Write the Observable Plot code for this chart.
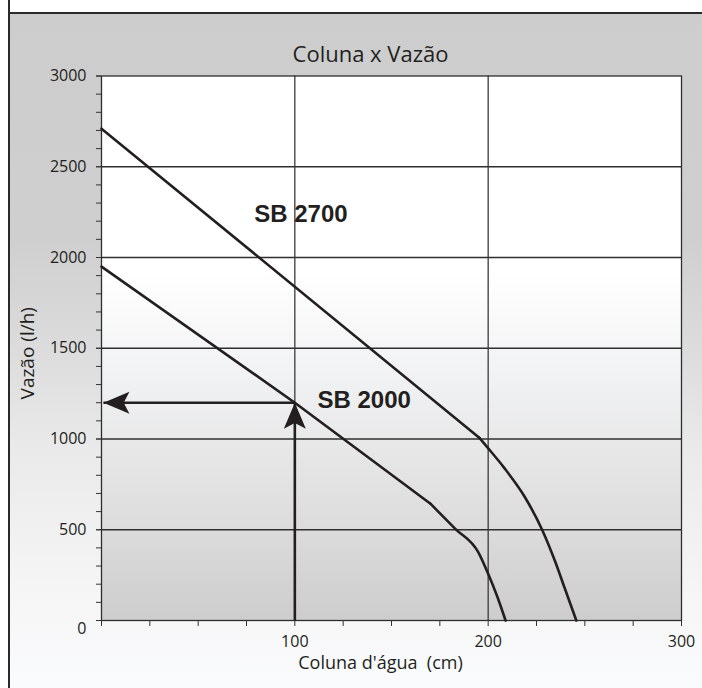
<!DOCTYPE html>
<html><head><meta charset="utf-8">
<script src="https://cdn.jsdelivr.net/npm/d3@7"></script>
<script src="https://cdn.jsdelivr.net/npm/@observablehq/plot@0.6"></script>
<style>
html,body{margin:0;padding:0;background:#fff;overflow:hidden;}
#wrap{position:relative;width:702px;height:688px;overflow:hidden;font-family:"Open Sans",sans-serif;
background:linear-gradient(to bottom,#cdcdcd 0px,#cfcfcf 240px,#dcdcdc 350px,#eaeaea 450px,#f6f6f6 600px,#fafbfd 688px);}
#cornerTop{position:absolute;left:0;top:0;width:702px;height:12px;background:#fff;border-bottom:2px solid #2a2a2a;}
#cornerLeft{position:absolute;left:0;top:0;width:8px;height:688px;background:#fff;border-right:2px solid #2a2a2a;}
#chart{position:absolute;left:0;top:0;}
</style></head>
<body><div id="wrap"><div id="cornerTop"></div><div id="cornerLeft"></div><div id="chart"></div></div>
<script>
// ---- data ----
const title = "Coluna x Vazão";
const xLabel = "Coluna d'água  (cm)";
const yLabel = "Vazão (l/h)";
const xTickLabels = [100, 200, 300];
const xMinorTicks = [0, 25, 50, 75, 100, 125, 150, 175, 200, 225, 250, 275, 300];
const yTickLabels = [500, 1000, 1500, 2000, 2500, 3000];
const yZeroLabel = [0];
const yMinorTicks = [0,100,200,300,400,500,600,700,800,900,1000,1100,1200,1300,1400,1500,1600,1700,1800,1900,2000,2100,2200,2300,2400,2500,2600,2700,2800,2900,3000];
const xGrid = [100, 200];
const yGrid = [500, 1000, 1500, 2000, 2500];

const seriesNames = ["SB 2700", "SB 2000"];
// straight part of each curve
const sb2700StraightX = [0, 195.4];
const sb2700StraightY = [2710, 1007];
// curved tail down to zero flow
const sb2700TailX = [195.4, 199.5, 208.3, 218.8, 227.9, 234.6, 239.8, 245.6];
const sb2700TailY = [1007, 955, 841, 683, 500, 326, 172, 0];
const sb2000StraightX = [0, 100, 170];
const sb2000StraightY = [1950, 1200, 645];
const sb2000TailX = [170, 183, 195, 199.5, 204.7, 209];
const sb2000TailY = [645, 505, 374, 270, 132, 0];

const labelX = [79, 111.7];
const labelY = [2237, 1213];

const readX = [100];
const readY = [1200];
const hArrowTipX = [1];

// ---- tables ----
const straight = [
  ...sb2700StraightX.map((x, i) => ({series: seriesNames[0], x, y: sb2700StraightY[i]})),
  ...sb2000StraightX.map((x, i) => ({series: seriesNames[1], x, y: sb2000StraightY[i]}))
];
const tails = [
  ...sb2700TailX.map((x, i) => ({series: seriesNames[0], x, y: sb2700TailY[i]})),
  ...sb2000TailX.map((x, i) => ({series: seriesNames[1], x, y: sb2000TailY[i]}))
];
const labels = seriesNames.map((s, i) => ({text: s, x: labelX[i], y: labelY[i]}));
const hShaft = [{x1: readX[0], y1: readY[0], x2: hArrowTipX[0], y2: readY[0]}];
const vShaft = [{x1: readX[0], y1: 0, x2: readX[0], y2: readY[0]}];
const hHead = [{x: hArrowTipX[0], y: readY[0]}];
const vHead = [{x: readX[0], y: readY[0]}];

const barb = {
  draw(context, l, r) {
    context.moveTo(0, -l);
    context.lineTo(r, 0);
    context.lineTo(0, -l * 0.22);
    context.lineTo(-r, 0);
    context.closePath();
  }
};

const ink = "#231f20";

const svg = Plot.plot({
  width: 702,
  height: 688,
  marginLeft: 101,
  marginRight: 21,
  marginTop: 75.5,
  marginBottom: 68,
  style: {fontFamily: "'Open Sans', sans-serif", fontSize: "16px", background: "transparent", color: ink, overflow: "visible"},
  x: {type: "linear", domain: [0, 300]},
  y: {type: "linear", domain: [0, 3000]},
  marks: [
    Plot.frame({fill: "url(#plotGrad)", stroke: "none"}),
    Plot.ruleY(yGrid, {stroke: "#2e2e2e", strokeWidth: 1.3}),
    Plot.ruleX(xGrid, {stroke: "#3a3a3a", strokeWidth: 1.3}),
    Plot.frame({stroke: "#2e2e2e", strokeWidth: 1.3}),
    Plot.axisY({ticks: yMinorTicks, tickSize: 5, tickPadding: 10, tickFormat: () => "", label: null, stroke: "#333"}),
    Plot.axisY({ticks: yTickLabels, tickSize: 5, tickPadding: 10, fontSize: 16, label: null, stroke: "#333", fill: ink, tickFormat: d => String(d)}),
    Plot.axisY({ticks: yZeroLabel, tickSize: 0, tickPadding: 15, dy: 8, fontSize: 16, label: null, fill: ink, tickFormat: d => String(d)}),
    Plot.axisX({ticks: xMinorTicks, tickSize: 6, tickPadding: 9, fontSize: 16, label: null, stroke: "#333", fill: ink,
      tickFormat: d => xTickLabels.includes(d) ? String(d) : ""}),
    Plot.line(straight, {x: "x", y: "y", z: "series", stroke: ink, strokeWidth: 2.6, curve: "linear", strokeLinejoin: "round", strokeLinecap: "round"}),
    Plot.line(tails, {x: "x", y: "y", z: "series", stroke: ink, strokeWidth: 2.6, curve: "monotone-x", strokeLinejoin: "round", strokeLinecap: "round"}),
    Plot.link(hShaft, {x1: "x1", y1: "y1", x2: "x2", y2: "y2", stroke: ink, strokeWidth: 2.6}),
    Plot.link(vShaft, {x1: "x1", y1: "y1", x2: "x2", y2: "y2", stroke: ink, strokeWidth: 2.6}),
    Plot.vector(hHead, {x: "x", y: "y", rotate: 270, length: 26, r: 11, anchor: "end", shape: barb, fill: ink, stroke: "none"}),
    Plot.vector(vHead, {x: "x", y: "y", rotate: 0, length: 26, r: 11, anchor: "end", shape: barb, fill: ink, stroke: "none"}),
    Plot.text(labels, {x: "x", y: "y", text: "text", textAnchor: "start", fontSize: 24, fontWeight: "bold",
      fontFamily: "'Liberation Sans', Arial, sans-serif", fill: ink}),
    Plot.text([title], {text: d => d, frameAnchor: "top", dx: -21, dy: -29.5, fontSize: 22, fill: ink}),
    Plot.text([xLabel], {text: d => d, frameAnchor: "bottom", dx: -11, dy: 48, fontSize: 18, fill: ink}),
    Plot.text([yLabel], {text: d => d, frameAnchor: "left", textAnchor: "middle", dx: -74, dy: 5, rotate: -90, fontSize: 19, fill: ink})
  ]
});

const defs = d3.select(svg).insert("defs", ":first-child");
const grad = defs.append("linearGradient").attr("id", "plotGrad")
  .attr("x1", 0).attr("y1", 0).attr("x2", 0).attr("y2", 1);
[[0, "#ffffff"], [0.36, "#ffffff"], [0.55, "#f1f2f3"], [0.78, "#e0e0e0"], [1, "#cdcdcd"]]
  .forEach(([o, c]) => grad.append("stop").attr("offset", o).attr("stop-color", c));

document.getElementById("chart").appendChild(svg);
</script>
</body></html>
